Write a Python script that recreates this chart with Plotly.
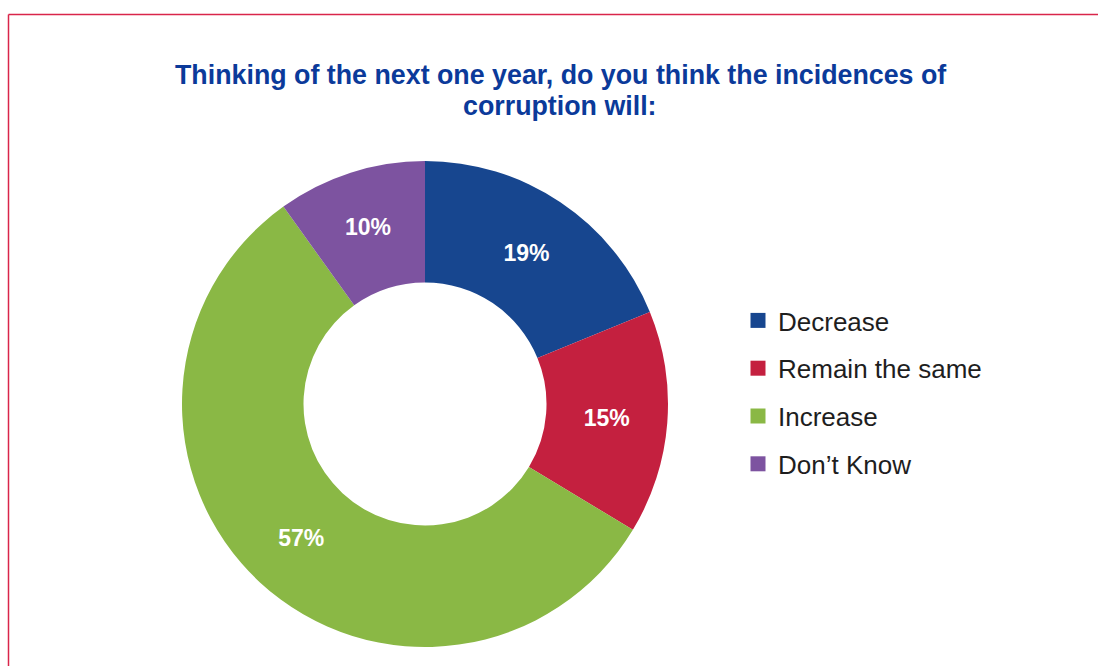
import plotly.graph_objects as go

# Survey responses
categories = ["Decrease", "Remain the same", "Increase", "Don\u2019t Know"]
shares = [19, 15, 57, 10]
slice_colors = ["#17468f", "#c4203f", "#8ab845", "#7d53a0"]

title_lines = [
    "Thinking of the next one year, do you think the incidences of",
    "corruption will:",
]

W, H = 1098, 666
FONT = "Liberation Sans, Arial, sans-serif"


def px_x(x):
    return x / W


def px_y(y):
    return 1 - y / H


fig = go.Figure()

# Donut
fig.add_trace(go.Pie(
    labels=categories,
    values=shares,
    text=[f"<b>{v}%</b>" for v in shares],
    texttemplate="%{text}",
    textposition="inside",
    insidetextorientation="horizontal",
    textfont=dict(family=FONT, size=23, color="white"),
    marker=dict(colors=slice_colors, line=dict(width=0)),
    hole=0.5,
    sort=False,
    direction="clockwise",
    rotation=0,
    showlegend=False,
    hoverinfo="label+percent",
    domain=dict(x=[px_x(425 - 243), px_x(425 + 243)], y=[px_y(647), px_y(161)]),
))

# Legend entries (one group each so the gap between rows can be set)
for name, col in zip(categories, slice_colors):
    fig.add_trace(go.Scatter(
        x=[None], y=[None], mode="markers", name=name,
        legendgroup=name,
        marker=dict(symbol="square", size=15, color=col),
        xaxis="x", yaxis="y",
    ))

title_ys = [75, 106]

fig.update_layout(
    width=W, height=H,
    margin=dict(l=0, r=0, t=0, b=0),
    paper_bgcolor="white",
    plot_bgcolor="white",
    xaxis=dict(visible=False, domain=[0.9, 1]),
    yaxis=dict(visible=False, domain=[0.9, 1]),
    legend=dict(
        x=px_x(738), y=px_y(297), xanchor="left", yanchor="top",
        font=dict(family=FONT, size=26, color="#1e1e1e"),
        tracegroupgap=11,
        itemclick=False, itemdoubleclick=False,
        bgcolor="rgba(0,0,0,0)",
    ),
    annotations=[
        dict(
            text="<b>" + line + "</b>",
            x=px_x(560), y=px_y(yc), xref="paper", yref="paper",
            xanchor="center", yanchor="middle", showarrow=False,
            font=dict(family=FONT, size=26.8, color="#0b3a9a"),
        )
        for line, yc in zip(title_lines, title_ys)
    ],
    shapes=[
        # frame lines
        dict(type="line", xref="paper", yref="paper",
             x0=px_x(8.5), x1=1.01, y0=px_y(14.5), y1=px_y(14.5),
             line=dict(color="#d9254a", width=1.5)),
        dict(type="line", xref="paper", yref="paper",
             x0=px_x(8.5), x1=px_x(8.5), y0=px_y(14.5), y1=-0.01,
             line=dict(color="#d9254a", width=1.5)),
    ],
)

fig.write_html("out.html")
